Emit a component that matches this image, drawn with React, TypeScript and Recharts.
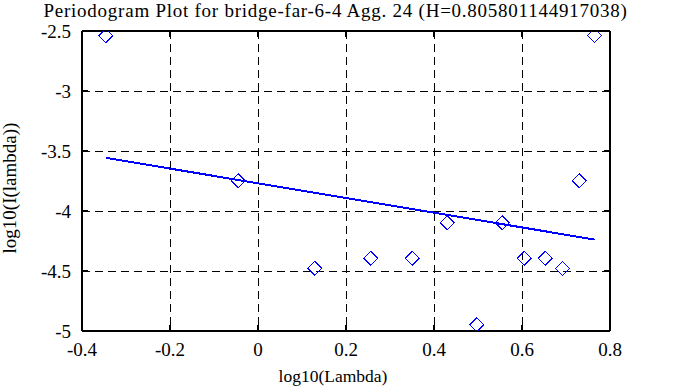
import React from "react";
import {
  ComposedChart,
  Scatter,
  XAxis,
  YAxis,
  CartesianGrid,
  Label,
} from "recharts";

const logLambda = [-0.346, -0.045, 0.129, 0.256, 0.351, 0.43, 0.497, 0.555, 0.605, 0.653, 0.692, 0.73, 0.765];
const logPeriodogram = [-2.538, -3.748, -4.477, -4.393, -4.393, -4.096, -4.948, -4.096, -4.393, -4.393, -4.477, -3.748, -2.538];
const fitX = [-0.346, 0.765];
const fitY = [-3.557, -4.238];
const xTicks = [-0.4, -0.2, 0, 0.2, 0.4, 0.6, 0.8];
const yTicks = [-5, -4.5, -4, -3.5, -3, -2.5];
const titleText = "Periodogram Plot for bridge-far-6-4 Agg. 24 (H=0.805801144917038)";
const xLabel = "log10(Lambda)";
const yLabel = "log10(I(lambda))";

const points = logLambda.map((x, i) => ({ x, y: logPeriodogram[i] }));
const fit = fitX.map((x, i) => ({ x, y: fitY[i] }));

const FONT = "'Liberation Serif', 'DejaVu Serif', serif";
const BLUE = "#0000ff";

const Diamond = (props: any) => {
  const { cx, cy } = props;
  if (cx == null || cy == null) return <g />;
  const r = 7;
  return (
    <polygon
      points={`${cx},${cy - r} ${cx + r},${cy} ${cx},${cy + r} ${cx - r},${cy}`}
      fill="none"
      stroke={BLUE}
      strokeWidth={1}
    />
  );
};

const NoShape = () => <g />;
const blank = () => "";

export default function App() {
  return (
    <div style={{ position: "absolute", left: 0, top: 0, width: 678, height: 387, background: "#fff" }}>
      <ComposedChart
        width={678}
        height={387}
        margin={{ top: 0, right: 0, bottom: 0, left: 0 }}
        style={{ fontFamily: FONT, shapeRendering: "crispEdges" }}
      >
        <CartesianGrid stroke="#000" strokeDasharray="8 5" strokeWidth={1} />
        <XAxis
          dataKey="x"
          type="number"
          domain={[-0.4, 0.8]}
          ticks={xTicks}
          allowDataOverflow
          height={56}
          tickSize={-6}
          tickMargin={18}
          axisLine={{ stroke: "#000", strokeWidth: 2 }}
          tickLine={{ stroke: "#000", strokeWidth: 2 }}
          tick={{ fill: "#000", fontSize: 19, fontFamily: FONT }}
        >
          <Label
            content={() => (
              <text x={333} y={382} textAnchor="middle" fontSize={17.5} fontFamily={FONT} fill="#000">
                {xLabel}
              </text>
            )}
          />
        </XAxis>
        <XAxis
          xAxisId="top"
          orientation="top"
          dataKey="x"
          type="number"
          domain={[-0.4, 0.8]}
          ticks={xTicks}
          allowDataOverflow
          height={31}
          tickSize={-6}
          tickFormatter={blank}
          axisLine={{ stroke: "#000", strokeWidth: 2 }}
          tickLine={{ stroke: "#000", strokeWidth: 2 }}
        >
          <Label
            content={() => (
              <text
                x={335.5}
                y={17}
                textAnchor="middle"
                fontSize={19}
                letterSpacing={0.75}
                fontFamily={FONT}
                fill="#000"
              >
                {titleText}
              </text>
            )}
          />
        </XAxis>
        <YAxis
          dataKey="y"
          type="number"
          domain={[-5, -2.5]}
          ticks={yTicks}
          allowDataOverflow
          width={82}
          tickSize={-6}
          tickMargin={17}
          axisLine={{ stroke: "#000", strokeWidth: 2 }}
          tickLine={{ stroke: "#000", strokeWidth: 2 }}
          tick={{ fill: "#000", fontSize: 19, fontFamily: FONT }}
        >
          <Label
            content={() => (
              <text
                x={16}
                y={188}
                textAnchor="middle"
                fontSize={19}
                fontFamily={FONT}
                fill="#000"
                transform="rotate(-90 16 188)"
              >
                {yLabel}
              </text>
            )}
          />
        </YAxis>
        <YAxis
          yAxisId="right"
          orientation="right"
          dataKey="y"
          type="number"
          domain={[-5, -2.5]}
          ticks={yTicks}
          allowDataOverflow
          width={68}
          tickSize={-6}
          tickFormatter={blank}
          axisLine={{ stroke: "#000", strokeWidth: 2 }}
          tickLine={{ stroke: "#000", strokeWidth: 2 }}
        />
        <Scatter
          data={fit}
          line={{ stroke: BLUE, strokeWidth: 2 }}
          shape={NoShape}
          isAnimationActive={false}
        />
        <Scatter data={points} shape={Diamond} isAnimationActive={false} />
        <Scatter data={points} yAxisId="right" xAxisId="top" shape={NoShape} isAnimationActive={false} />
      </ComposedChart>
    </div>
  );
}
